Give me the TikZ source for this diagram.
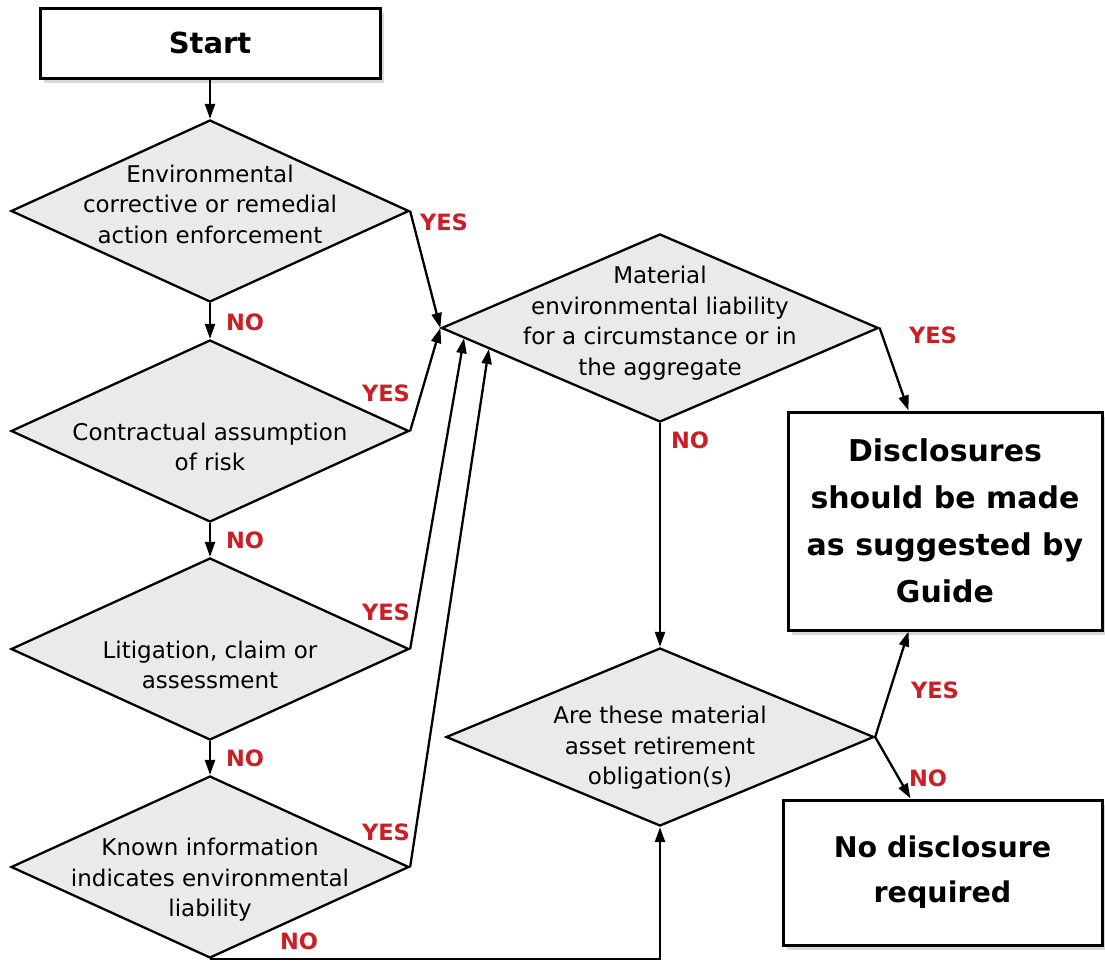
\documentclass[tikz,border=0pt]{standalone}
\usepackage{fontspec}
\setmainfont{DejaVu Sans}
\usetikzlibrary{shapes.geometric,arrows.meta,shadows}
\definecolor{answerred}{RGB}{204,30,38}
\definecolor{diamondgray}{RGB}{236,234,232}
\newcommand{\dtext}[2][0pt]{\smash{\raisebox{#1}{\makebox[0pt]{\fontsize{23}{30.5}\selectfont\begin{tabular}{@{}c@{}}#2\end{tabular}}}}}
\tikzset{
    decision/.style={diamond, draw, line width=2.3pt, fill=diamondgray, inner sep=0pt, minimum width=398pt, minimum height=182pt},
    endbox/.style={rectangle, draw, line width=3pt, fill=white, inner sep=0pt, align=center, drop shadow={opacity=0.3, shadow xshift=4pt, shadow yshift=-5pt}},
    answer/.style={text=answerred, font=\fontsize{22.5}{26}\selectfont\bfseries, inner sep=0pt},
    flow/.style={line width=2.3pt, -{Triangle[length=15pt,width=10pt]}}
}

\begin{document}
\begin{tikzpicture}[x=1pt,y=-1pt]
        \useasboundingbox (0,0) rectangle (1105,961);
        \node[endbox, minimum width=340pt, minimum height=70pt, font=\fontsize{29}{35}\selectfont\bfseries] (start) at (210,43) {Start};
        \node[decision] (q1) at (210,211) {\dtext[-2pt]{Environmental\\corrective or remedial\\action enforcement}};
        \node[decision] (q2) at (210,431) {\dtext[-24.5pt]{Contractual assumption\\of risk}};
        \node[decision] (q3) at (210,649) {\dtext[-24.5pt]{Litigation, claim or\\assessment}};
        \node[decision] (q4) at (210,867) {\dtext[-19.5pt]{Known information\\indicates environmental\\liability}};
        \node[decision, minimum width=437pt, minimum height=188pt] (q5) at (660,328) {\dtext[-1.5pt]{Material\\environmental liability\\for a circumstance or in\\the aggregate}};
        \node[decision, minimum width=428pt, minimum height=178pt] (q6) at (660,737) {\dtext[-17.5pt]{Are these material\\asset retirement\\obligation(s)}};
        \node[endbox, minimum width=314pt, minimum height=218pt, font=\fontsize{30}{47}\selectfont\bfseries] (disc) at (945,521) {Disclosures\\should be made\\as suggested by\\Guide};
        \node[endbox, minimum width=319pt, minimum height=145pt, font=\fontsize{28.5}{45}\selectfont\bfseries] (nodisc) at (942.5,872.5) {No disclosure\\required};

        % answers
        \node[answer] (yes1) at (444,222) {YES};
        \node[answer] (no1) at (245,322) {NO};
        \node[answer] (yes2) at (386,393) {YES};
        \node[answer] (no2) at (245,540) {NO};
        \node[answer] (yes3) at (386,612) {YES};
        \node[answer] (no3) at (245,758) {NO};
        \node[answer] (yes4) at (386,832) {YES};
        \node[answer] (no4) at (299,941) {NO};
        \node[answer] (yes5) at (933,335) {YES};
        \node[answer] (no5) at (690,440) {NO};
        \node[answer] (yes6) at (935,690) {YES};
        \node[answer] (no6) at (928,778) {NO};

        \draw[flow] (start) -- (q1);
        \draw[flow] (q1) -- (q2);
        \draw[flow] (q2) -- (q3);
        \draw[flow] (q3) -- (q4);
        \draw[flow] (q1.east) -- (q5.west);
        \draw[flow] (q2.east) -- (q5.west);
        \draw[flow] (q3.east) -- (q5.183);
        \draw[flow] (q4.east) -- (q5.187);
        \draw[flow] (q5.east) -- ([xshift=122pt]disc.north west);
        \draw[flow] (q5) -- (q6);
        \draw[flow] (q6.east) -- ([xshift=122pt]disc.south west);
        \draw[flow] (q6.east) -- ([xshift=129pt]nodisc.north west);
        \draw[flow] (q4.south) -| (q6.south);
\end{tikzpicture}
\end{document}
